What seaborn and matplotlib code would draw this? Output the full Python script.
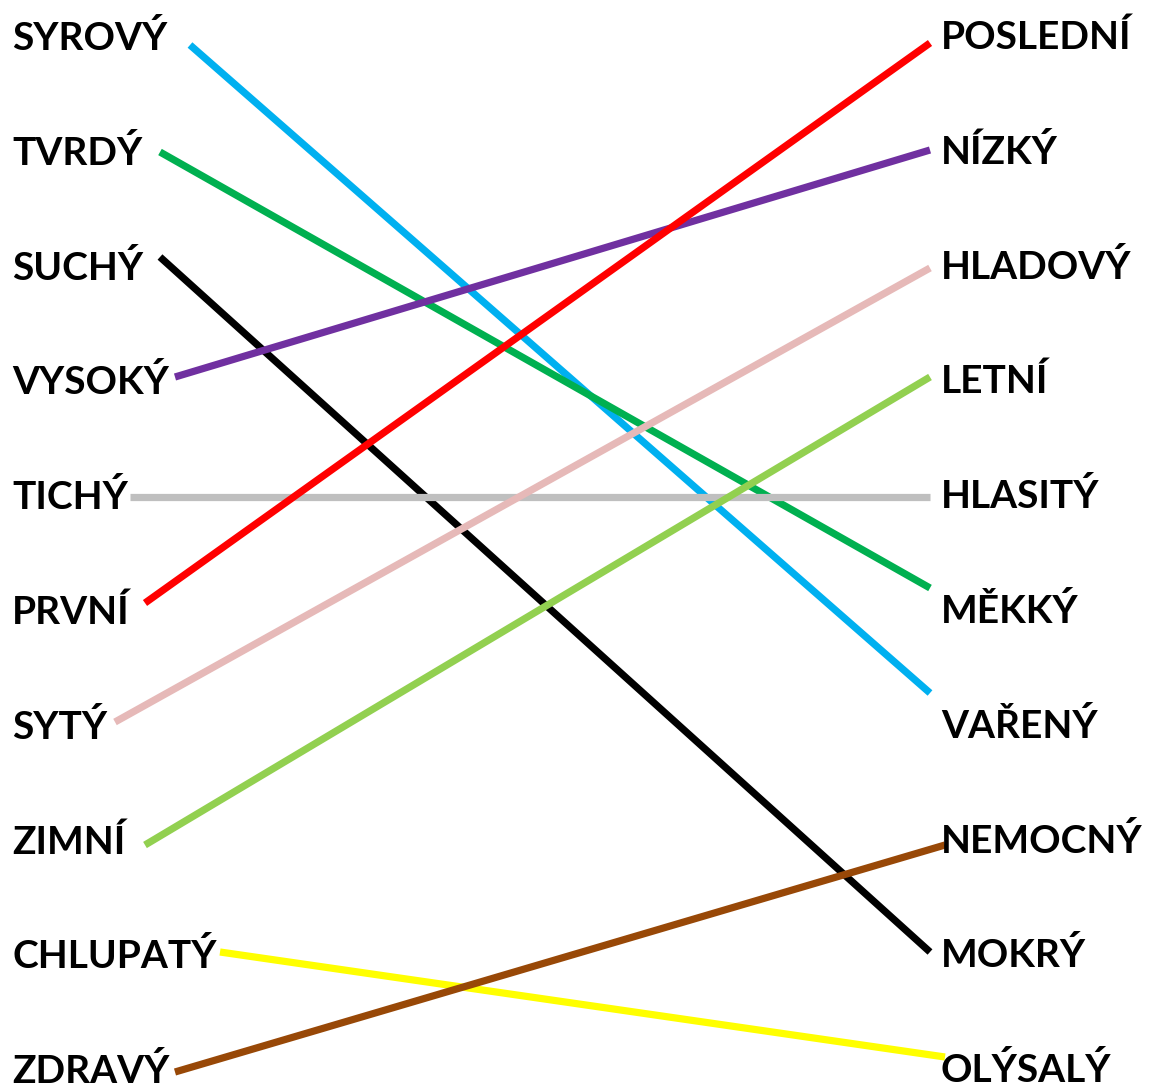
import pandas as pd
import matplotlib.pyplot as plt
import seaborn as sns

sns.set_theme(style="white")
plt.rcParams['font.family'] = ['Lato', 'DejaVu Sans']

# Words in the left and right columns (top to bottom)
left_words = ["SYROVÝ", "TVRDÝ", "SUCHÝ", "VYSOKÝ", "TICHÝ",
              "PRVNÍ", "SYTÝ", "ZIMNÍ", "CHLUPATÝ", "ZDRAVÝ"]
right_words = ["POSLEDNÍ", "NÍZKÝ", "HLADOVÝ", "LETNÍ", "HLASITÝ",
               "MĚKKÝ", "VAŘENÝ", "NEMOCNÝ", "MOKRÝ", "OLÝSALÝ"]

# Which right word each left word is joined to (index into right_words)
match = [6, 5, 8, 1, 4, 0, 2, 3, 9, 7]
line_colors = ["#00B0F0", "#00B050", "#000000", "#7030A0", "#BFBFBF",
               "#FF0000", "#E6B9B8", "#92D050", "#FFFF00", "#984807"]

# Line ends (pixels)
start_x = [190, 160, 160, 175, 130, 145, 115, 145, 220, 175]
start_y = [45, 152, 257, 377, 497, 603, 722, 845, 952, 1072]
end_x = [930, 930, 930, 930, 930, 930, 930, 930, 945, 945]
end_y = [693, 588, 952, 150, 497, 43, 268, 377, 1057, 845]

rows = []
for i, w in enumerate(left_words):
    pair = f"{w}-{right_words[match[i]]}"
    rows.append({"pair": pair, "x": start_x[i], "y": start_y[i]})
    rows.append({"pair": pair, "x": end_x[i], "y": end_y[i]})
df = pd.DataFrame(rows)
pairs = df["pair"].unique()

fig = plt.figure(figsize=(11.52, 10.89), dpi=100)
ax = fig.add_axes([0, 0, 1, 1])
sns.lineplot(data=df, x="x", y="y", hue="pair", palette=dict(zip(pairs, line_colors)),
             units="pair", estimator=None, sort=False, linewidth=5.2,
             legend=False, ax=ax, solid_capstyle="butt")

for i in range(10):
    base = 50 + 114.8 * i
    ax.text(12, base, left_words[i], ha="left", va="baseline",
            fontsize=28, fontweight="bold", color="black")
    ax.text(941, base - 1, right_words[i], ha="left", va="baseline",
            fontsize=28, fontweight="bold", color="black")

ax.set_xlim(0, 1152)
ax.set_ylim(1089, 0)
ax.axis("off")

plt.savefig("out.png", dpi=100)
